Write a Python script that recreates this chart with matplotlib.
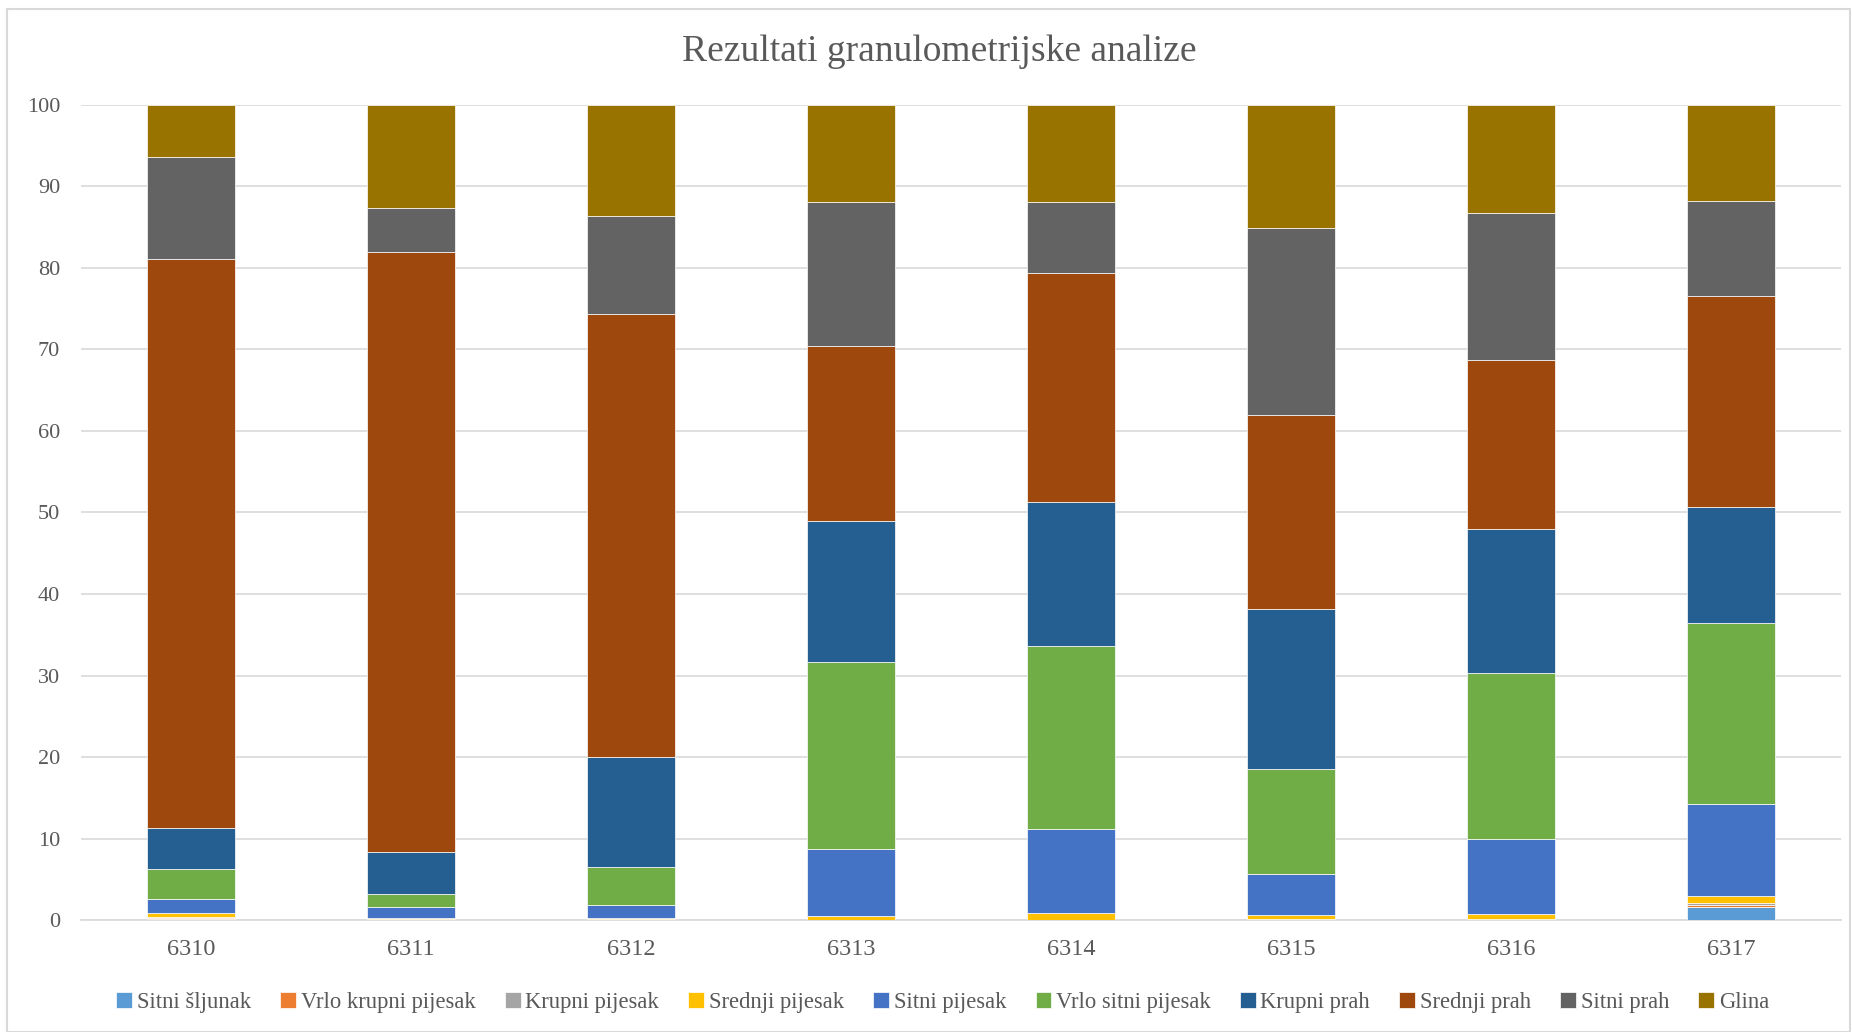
import matplotlib
matplotlib.use("Agg")
import matplotlib.pyplot as plt
import numpy as np
from matplotlib.patches import Rectangle

samples = ["6310", "6311", "6312", "6313", "6314", "6315", "6316", "6317"]
categories = ["Sitni šljunak", "Vrlo krupni pijesak", "Krupni pijesak", "Srednji pijesak",
              "Sitni pijesak", "Vrlo sitni pijesak", "Krupni prah", "Srednji prah",
              "Sitni prah", "Glina"]

sitni_sljunak      = [0.10, 0.00, 0.00, 0.00, 0.00, 0.00, 0.00, 1.60]
vrlo_krupni_pijesak = [0.15, 0.05, 0.05, 0.00, 0.00, 0.00, 0.00, 0.20]
krupni_pijesak     = [0.15, 0.10, 0.05, 0.05, 0.05, 0.10, 0.15, 0.25]
srednji_pijesak    = [0.50, 0.15, 0.15, 0.45, 0.85, 0.50, 0.55, 0.90]
sitni_pijesak      = [1.70, 1.30, 1.55, 8.20, 10.30, 5.10, 9.30, 11.25]
vrlo_sitni_pijesak = [3.70, 1.55, 4.70, 22.90, 22.40, 12.80, 20.30, 22.30]
krupni_prah        = [5.00, 5.25, 13.50, 17.40, 17.70, 19.60, 17.70, 14.20]
srednji_prah       = [69.80, 73.50, 54.30, 21.40, 28.10, 23.80, 20.70, 25.90]
sitni_prah         = [12.50, 5.50, 12.10, 17.70, 8.70, 23.00, 18.10, 11.60]
glina              = [6.40, 12.60, 13.60, 11.90, 11.90, 15.10, 13.20, 11.80]

series = [sitni_sljunak, vrlo_krupni_pijesak, krupni_pijesak, srednji_pijesak,
          sitni_pijesak, vrlo_sitni_pijesak, krupni_prah, srednji_prah, sitni_prah, glina]
colors = ["#5B9BD5", "#ED7D31", "#A5A5A5", "#FFC000", "#4472C4", "#70AD47",
          "#255E91", "#9E480E", "#636363", "#997300"]

plt.rcParams['font.family'] = ['Liberation Serif', 'DejaVu Serif']
txt = "#595959"

fig = plt.figure(figsize=(18.52, 10.32), dpi=100)
ax = fig.add_axes([0.0437, 0.1085, 0.9503, 0.7898])

x = np.arange(len(samples))
bottom = np.zeros(len(samples))
for vals, col, lab in zip(series, colors, categories):
    v = np.array(vals)
    ax.bar(x, v, width=0.4, bottom=bottom, color=col, label=lab,
           edgecolor="white", linewidth=0.5, zorder=3)
    bottom += v

ax.set_xlim(-0.5, len(samples) - 0.5)
ax.set_ylim(0, 100)
ax.set_yticks(np.arange(0, 101, 10))
ax.set_xticks(x)
ax.set_xticklabels(samples)
ax.tick_params(axis='y', length=0, labelsize=16, colors=txt, pad=15)
ax.tick_params(axis='x', length=0, labelsize=17.5, colors=txt, pad=14)
ax.grid(axis='y', color="#d9d9d9", linewidth=1.2, zorder=0)
for s in ["top", "right", "left"]:
    ax.spines[s].set_visible(False)
ax.spines["bottom"].set_color("#d9d9d9")
ax.spines["bottom"].set_linewidth(1.2)

fig.text(0.507, 0.9496, "Rezultati granulometrijske analize", ha="center", va="center",
         fontsize=27, color=txt)

leg = fig.legend(loc="center", bbox_to_anchor=(0.509, 0.029), ncol=10, frameon=False,
                 fontsize=16.3, handlelength=0.7, handleheight=0.7, handletextpad=0.2,
                 columnspacing=1.3)
for t in leg.get_texts():
    t.set_color(txt)

fig.patches.append(Rectangle((0.004, 0.0), 0.995, 0.991, transform=fig.transFigure,
                             fill=False, edgecolor="#d9d9d9", linewidth=1.5))

fig.savefig("out.png", dpi=100, facecolor="white")
